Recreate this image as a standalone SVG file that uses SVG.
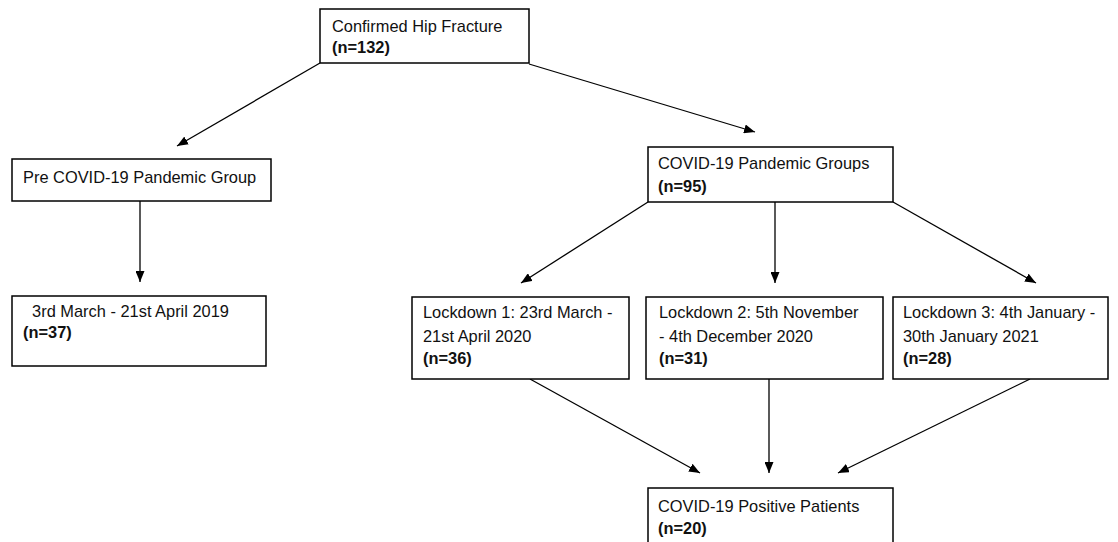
<svg xmlns="http://www.w3.org/2000/svg" width="1118" height="542" viewBox="0 0 1118 542">
<style>
.box{fill:#fff;stroke:#000;stroke-width:1.5}
.t{font-family:"Liberation Sans",Arial,sans-serif;font-size:16.4px;fill:#111}
.b{font-weight:bold}
.c{stroke:#000;stroke-width:1.3;fill:none;marker-end:url(#ah)}
</style>
<defs>
<marker id="ah" markerUnits="userSpaceOnUse" markerWidth="11" markerHeight="9" refX="11" refY="4.5" orient="auto" viewBox="0 0 11 9">
<path d="M0,0 L11,4.5 L0,9 z" fill="#000"/>
</marker>
</defs>
<rect width="1118" height="542" fill="#fff"/>
<g id="connectors">
<line class="c" x1="320" y1="63" x2="177" y2="146"/>
<line class="c" x1="529" y1="64" x2="755" y2="132"/>
<line class="c" x1="140" y1="201" x2="140" y2="282"/>
<line class="c" x1="648" y1="202" x2="521" y2="283"/>
<line class="c" x1="775" y1="202" x2="775" y2="283"/>
<line class="c" x1="893" y1="202" x2="1036" y2="283"/>
<line class="c" x1="530" y1="379" x2="700" y2="473"/>
<line class="c" x1="769" y1="379" x2="769" y2="473"/>
<line class="c" x1="1030" y1="379" x2="838" y2="473"/>
</g>
<g id="n-hip">
<rect class="box" x="320" y="9" width="209" height="54"/>
<text class="t" x="332" y="32">Confirmed Hip Fracture</text>
<text class="t b" x="332" y="53">(n=132)</text>
</g>
<g id="n-pre">
<rect class="box" x="12" y="159" width="259" height="42"/>
<text class="t" x="23" y="183">Pre COVID-19 Pandemic Group</text>
</g>
<g id="n-2019">
<rect class="box" x="12" y="296" width="254" height="70"/>
<text class="t" x="23" y="317" xml:space="preserve">  3rd March - 21st April 2019</text>
<text class="t b" x="23" y="338">(n=37)</text>
</g>
<g id="n-covid">
<rect class="box" x="648" y="147" width="245" height="55"/>
<text class="t" x="658" y="169">COVID-19 Pandemic Groups</text>
<text class="t b" x="658" y="192">(n=95)</text>
</g>
<g id="n-l1">
<rect class="box" x="412" y="297" width="217" height="82"/>
<text class="t" x="423" y="318">Lockdown 1: 23rd March -</text>
<text class="t" x="423" y="342">21st April 2020</text>
<text class="t b" x="423" y="364">(n=36)</text>
</g>
<g id="n-l2">
<rect class="box" x="646" y="297" width="237" height="82"/>
<text class="t" x="659" y="318">Lockdown 2: 5th November</text>
<text class="t" x="659" y="342">- 4th December 2020</text>
<text class="t b" x="659" y="364">(n=31)</text>
</g>
<g id="n-l3">
<rect class="box" x="893" y="297" width="215" height="82"/>
<text class="t" x="903" y="318">Lockdown 3: 4th January -</text>
<text class="t" x="903" y="342">30th January 2021</text>
<text class="t b" x="903" y="364">(n=28)</text>
</g>
<g id="n-pos">
<rect class="box" x="648" y="488" width="245" height="70"/>
<text class="t" x="658" y="512">COVID-19 Positive Patients</text>
<text class="t b" x="658" y="534">(n=20)</text>
</g>
</svg>
